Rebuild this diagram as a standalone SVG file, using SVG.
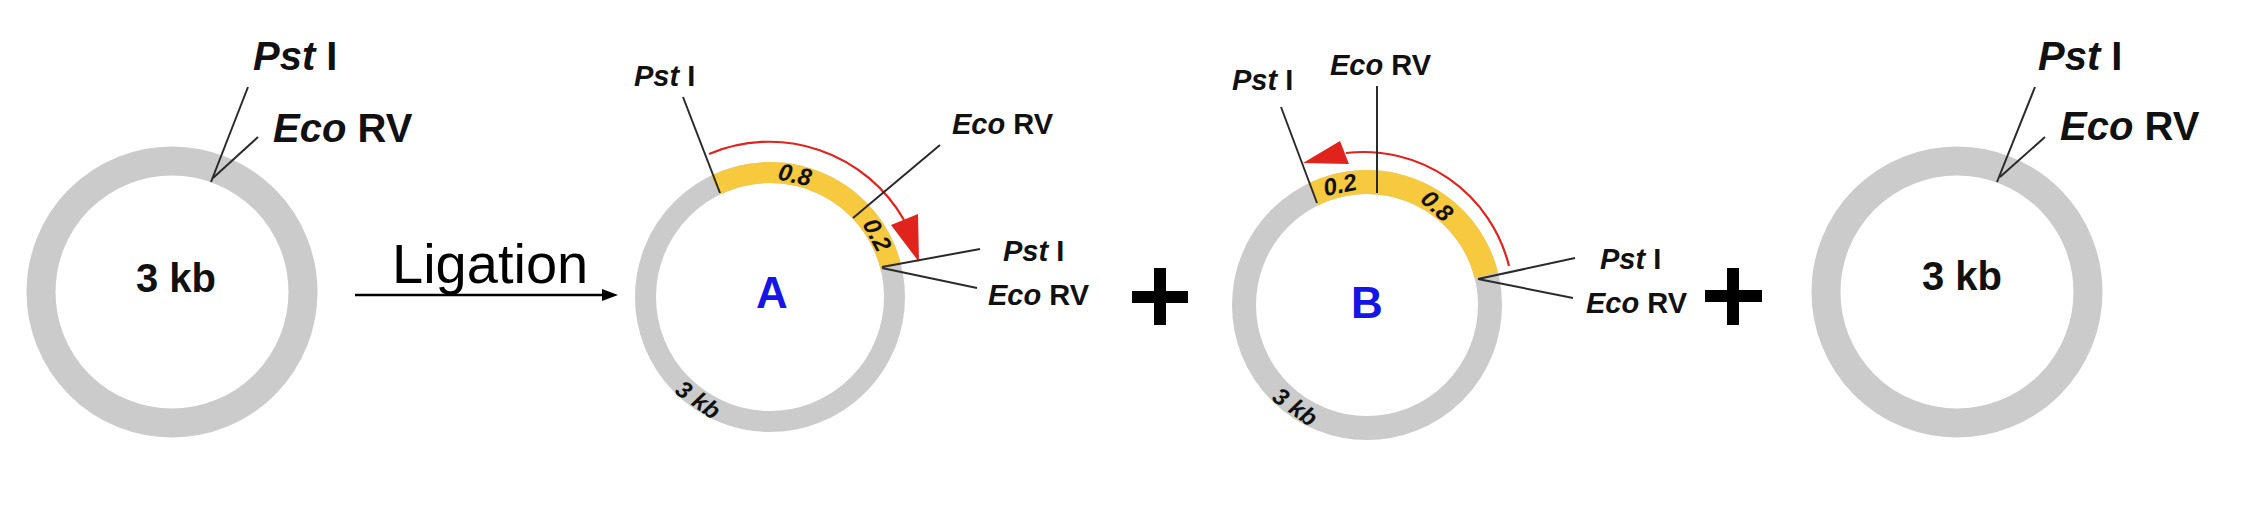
<svg xmlns="http://www.w3.org/2000/svg" width="2242" height="510" viewBox="0 0 2242 510">
<defs>
<style>
.ring{fill:none;stroke:#cbcbcb}
.yel{fill:none;stroke:#f6c93f}
.ln{stroke:#2a2a2a;stroke-width:2;fill:none}
.red{fill:none;stroke:#e0231c;stroke-width:2.2}
.redh{fill:#e0231c}
.lbl{font-family:"Liberation Sans",Arial,sans-serif;font-weight:bold;fill:#111}
.it{font-style:italic}
.big{font-size:40px}
.sm{font-size:29px}
.tiny{font-size:24px;font-style:italic;text-anchor:middle}
.ab{font-family:"Liberation Sans",Arial,sans-serif;font-weight:bold;font-size:44px;fill:#1515e6;text-anchor:middle}
.plus{fill:#000}
</style>
</defs>
<rect width="2242" height="510" fill="#ffffff"/>

<g id="plasmid1">
<circle class="ring" cx="172" cy="292" r="131" stroke-width="29"/>
<text class="lbl big" x="176" y="292" text-anchor="middle">3 kb</text>
<line class="ln" x1="248" y1="87" x2="211" y2="182"/>
<line class="ln" x1="258" y1="137" x2="213" y2="178"/>
<text class="lbl big" x="253" y="70"><tspan class="it">Pst</tspan> I</text>
<text class="lbl big" x="273" y="142"><tspan class="it">Eco</tspan> RV</text>
</g>

<g id="ligation">
<line x1="355" y1="295" x2="605" y2="295" stroke="#000" stroke-width="2.5"/>
<polygon points="602,289 618,295 602,301" fill="#000"/>
<text x="392" y="283" font-family="Liberation Sans, Arial, sans-serif" font-size="56" fill="#000">Ligation</text>
</g>

<g id="plasmidA">
<circle class="ring" cx="770" cy="297" r="124.5" stroke-width="21"/>
<path class="yel" d="M715.4,185.1 A124.5,124.5 0 0 1 890.8,266.9" stroke-width="21"/>
<path class="red" d="M709,154 A155,155 0 0 1 904,220"/>
<polygon class="redh" points="891,225 918,214 919,262"/>
<line class="ln" x1="683" y1="97" x2="720" y2="193"/>
<line class="ln" x1="940" y1="145" x2="853" y2="218"/>
<line class="ln" x1="980" y1="249" x2="882" y2="267"/>
<line class="ln" x1="977" y1="288" x2="882" y2="268"/>
<text class="lbl sm" x="634" y="86"><tspan class="it">Pst</tspan> I</text>
<text class="lbl sm" x="952" y="134"><tspan class="it">Eco</tspan> RV</text>
<text class="lbl sm" x="1003" y="261"><tspan class="it">Pst</tspan> I</text>
<text class="lbl sm" x="988" y="305"><tspan class="it">Eco</tspan> RV</text>
<text class="lbl tiny" transform="translate(795,175) rotate(12)" y="8">0.8</text>
<text class="lbl tiny" transform="translate(877,235) rotate(62)" y="8">0.2</text>
<text class="lbl tiny" transform="translate(698,400) rotate(35)" y="8">3 kb</text>
<text class="ab" x="772" y="308">A</text>
</g>

<g id="plus1">
<rect class="plus" x="1154" y="268" width="12" height="57"/>
<rect class="plus" x="1132" y="291" width="56" height="12"/>
</g>

<g id="plasmidB">
<circle class="ring" cx="1367" cy="305" r="123" stroke-width="24"/>
<path class="yel" d="M1313.1,194.4 A123,123 0 0 1 1486.3,275.2" stroke-width="24"/>
<path class="red" d="M1509,266 A150,150 0 0 0 1346,153"/>
<polygon class="redh" points="1340,141 1349,164 1303,163"/>
<line class="ln" x1="1281" y1="107" x2="1317" y2="203"/>
<line class="ln" x1="1377" y1="86" x2="1377" y2="193"/>
<line class="ln" x1="1575" y1="258" x2="1478" y2="279"/>
<line class="ln" x1="1573" y1="298" x2="1478" y2="279"/>
<text class="lbl sm" x="1232" y="90"><tspan class="it">Pst</tspan> I</text>
<text class="lbl sm" x="1330" y="75"><tspan class="it">Eco</tspan> RV</text>
<text class="lbl sm" x="1600" y="269"><tspan class="it">Pst</tspan> I</text>
<text class="lbl sm" x="1586" y="313"><tspan class="it">Eco</tspan> RV</text>
<text class="lbl tiny" transform="translate(1340,185) rotate(-12)" y="8">0.2</text>
<text class="lbl tiny" transform="translate(1437,206) rotate(42)" y="8">0.8</text>
<text class="lbl tiny" transform="translate(1295,407) rotate(35)" y="8">3 kb</text>
<text class="ab" x="1367" y="318">B</text>
</g>

<g id="plus2">
<rect class="plus" x="1727" y="268" width="12" height="57"/>
<rect class="plus" x="1705" y="290" width="57" height="12"/>
</g>

<g id="plasmid4">
<circle class="ring" cx="1957" cy="292" r="131" stroke-width="29"/>
<text class="lbl big" x="1962" y="290" text-anchor="middle">3 kb</text>
<line class="ln" x1="2035" y1="87" x2="1997" y2="182"/>
<line class="ln" x1="2045" y1="137" x2="2000" y2="177"/>
<text class="lbl big" x="2038" y="70"><tspan class="it">Pst</tspan> I</text>
<text class="lbl big" x="2060" y="140"><tspan class="it">Eco</tspan> RV</text>
</g>
</svg>
